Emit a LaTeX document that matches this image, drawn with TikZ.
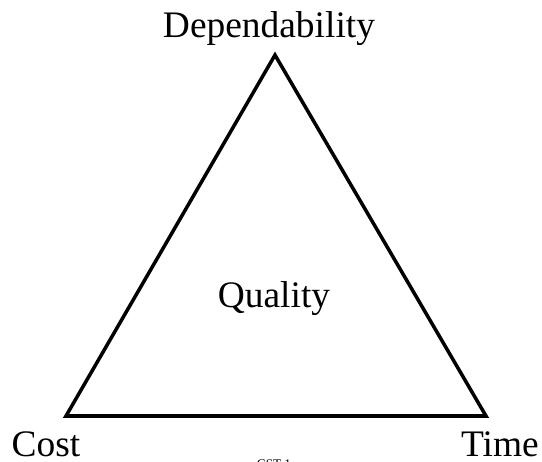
\documentclass[tikz,border=0pt]{standalone}
\usepackage{fontspec}
\setmainfont{Liberation Serif}
\usepackage{tikz}
\usetikzlibrary{positioning, calc}

\begin{document}
\begin{tikzpicture}[x=0.02cm, y=0.02cm,
  corner/.style={font=\fontsize{21.3}{24}\selectfont, inner sep=0pt, anchor=base},
  centre/.style={font=\fontsize{21.3}{24}\selectfont, inner sep=0pt, anchor=base},
  footer/.style={font=\fontsize{7.5}{9}\selectfont, inner sep=0pt, anchor=base},
  edge/.style={line width=2pt, line join=miter, black}
]
\useasboundingbox (0,0) rectangle (542,461);

% Triangle corners
\coordinate (top) at (275,406);
\coordinate (left) at (66,45);
\coordinate (right) at (486,45);

\draw[edge] (top) -- (left) -- (right) -- cycle;

% Labels
\node[corner] (dependability) at (269,424) {Dependability};
\node[corner] (cost) at (46,5) {Cost};
\node[corner] (time) at (500,5) {Time};
\node[centre] (quality) at (274,154) {Quality};

\node[footer] (slide) at (274,-7) {CST 1};
\end{tikzpicture}
\end{document}
